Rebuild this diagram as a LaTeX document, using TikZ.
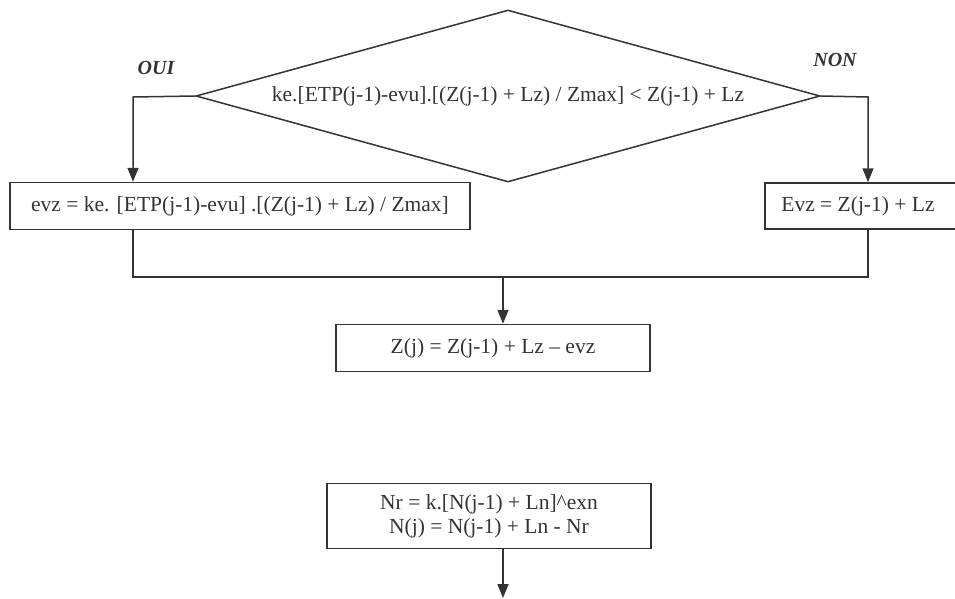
\documentclass[tikz,border=0pt]{standalone}
\usepackage{fontspec}
\setmainfont{Liberation Serif}
\usetikzlibrary{shapes.geometric,arrows.meta}
\definecolor{ln}{HTML}{333333}
\begin{document}
\begin{tikzpicture}[x=1pt,y=-1pt,
  every node/.style={font=\fontsize{21.5}{25}\selectfont, text=ln},
  box/.style={draw=ln, line width=1.5pt, inner sep=0pt, rectangle},
  cond/.style={draw=ln, line width=1.5pt, shape=diamond, inner sep=0pt, aspect=3.6, minimum width=624pt, minimum height=172pt},
  conn/.style={draw=ln, line width=1.5pt},
  arr/.style={conn, -{Triangle[width=11pt,length=14pt]}},
  lab/.style={font=\fontsize{20}{24}\selectfont\bfseries\itshape}]
\useasboundingbox (0,0) rectangle (955,599);
\node[cond] (d) at (508,96) {\raisebox{-3pt}{ke.[ETP(j-1)-evu].[(Z(j-1) + Lz) / Zmax] < Z(j-1) + Lz}};
\node[box, minimum width=460pt, minimum height=47pt] (l) at (240,206) {evz = ke. [ETP(j-1)-evu] .[(Z(j-1) + Lz) / Zmax]};
\node[box, minimum width=196pt, minimum height=46pt] (r) at (863,206) {};
\node (rt) at (858,206) {Evz = Z(j-1) + Lz};
\node[box, minimum width=314pt, minimum height=47pt] (z) at (493,348) {Z(j) = Z(j-1) + Lz – evz};
\node[box, minimum width=324pt, minimum height=65pt, align=center] (n) at (489,516) {Nr = k.[N(j-1) + Ln]\textasciicircum exn\\[-1pt]N(j) = N(j-1) + Ln - Nr};
\node[lab] (oui) at (156,68) {OUI};
\node[lab] (non) at (835,60) {NON};
\coordinate (lc) at (133,97);
\coordinate (rc) at (868,97);
\coordinate (j) at (503,277);
\coordinate (end) at (503,598);
\draw[arr] (d.west) -- (lc) -- (lc |- l.north);
\draw[arr] (d.east) -- (rc) -- (rc |- r.north);
\draw[conn] (lc |- l.south) -- (lc |- j) -- (rc |- j) -- (rc |- r.south);
\draw[arr] (j) -- (j |- z.north);
\draw[arr] (j |- n.south) -- (end);
\end{tikzpicture}
\end{document}
